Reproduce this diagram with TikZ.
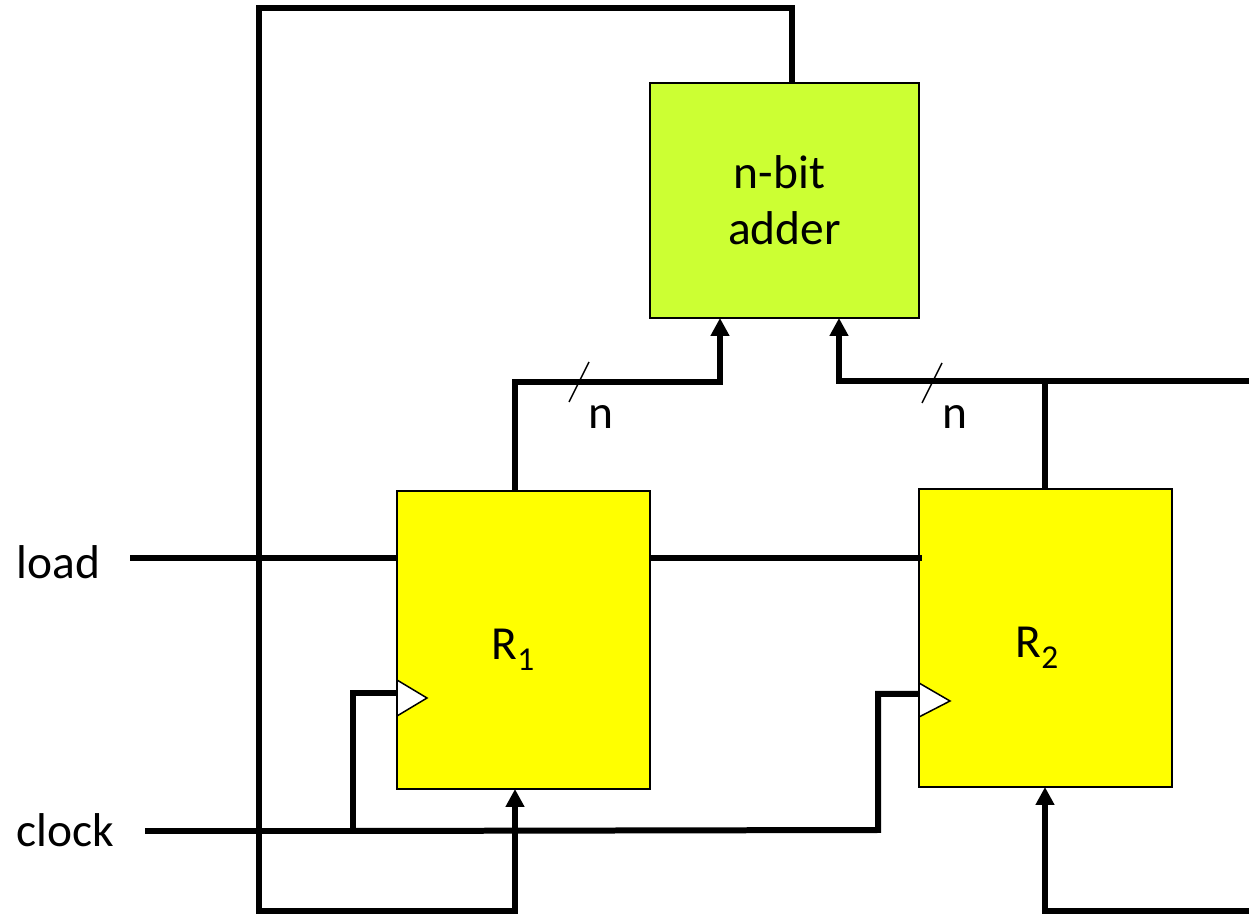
\documentclass[tikz,border=0pt]{standalone}
\usepackage{fontspec}
\setmainfont{Carlito}
\usetikzlibrary{positioning,arrows.meta}

\definecolor{regyellow}{RGB}{255,255,0}
\definecolor{addgreen}{RGB}{204,255,51}
\newcommand{\subdigit}[1]{\raisebox{-0.24em}{\fontsize{19}{19}\selectfont #1}}

\tikzset{
    block/.style={draw=black,line width=0.03cm,outer sep=0pt,inner sep=0pt,minimum width=5.06cm,minimum height=5.96cm,fill=regyellow},
    wire/.style={line width=0.12cm,line join=miter},
    busarrow/.style={wire,-{Triangle[width=0.36cm,length=0.36cm]}},
    tick/.style={line width=0.03cm},
    clockmark/.style={draw=black,fill=white,line width=0.03cm},
    lbl/.style={font=\fontsize{27}{32}\selectfont,inner sep=0pt}
}

\begin{document}
\begin{tikzpicture}[x=0.02cm,y=-0.02cm]
                    \useasboundingbox (0,0) rectangle (1249,915);
                    \node[block,fill=addgreen,minimum width=5.38cm,minimum height=4.7cm,lbl,align=center] (adder) at (784.5,200.5) {n-bit\hspace*{0.2cm}\\adder};
                    \node[block] (r1) at (523.5,640) {};
                    \node[block] (r2) at (1045.5,638) {};
                    \node[lbl] (r1name) at (513,650) {R\subdigit{1}};
                    \node[lbl] (r2name) at (1037,648) {R\subdigit{2}};
                    \node[lbl] (load) at (58.5,562) {load};
                    \node[lbl] (clock) at (65.5,830) {clock};
                    % wire ends
                    \coordinate (addtop) at (792,83);
                    \coordinate (addina) at (720,318);
                    \coordinate (addinb) at (839,318);
                    \coordinate (r1top) at (515,491);
                    \coordinate (r1bot) at (515,789);
                    \coordinate (r2top) at (1045,489);
                    \coordinate (r2bot) at (1045,787);
                    \coordinate (r1clk) at (397,693);
                    \coordinate (r2clk) at (919,694);
                    \coordinate (busout) at (1249,381);
                    \coordinate (inout) at (1249,911);
                    \coordinate (loadin) at (130,558);
                    \coordinate (r1loadl) at (397,558);
                    \coordinate (r1loadr) at (650,558);
                    \coordinate (r2load) at (922,558);
                    \coordinate (clkin) at (145,831);
                    \coordinate (clkjoin) at (353,831);
                    \coordinate (clkend) at (878,830);
                    \coordinate (buscorner) at (1045,381);
                    % feedback
                    \draw[busarrow] (addtop) -- (792,8) -- (259,8) -- (259,911) -- (515,911) -- (r1bot);
                    % buses
                    \draw[busarrow] (r1top) -- (515,382) -- (720,382) -- (addina);
                    \draw[busarrow] (busout) -- (839,381) -- (addinb);
                    \draw[wire] (r2top) -- (buscorner);
                    \draw[busarrow] (inout) -- (1045,911) -- (r2bot);
                    % load
                    \draw[wire] (loadin) -- (r1loadl);
                    \draw[wire] (r1loadr) -- (r2load);
                    % clock
                    \draw[wire] (clkin) -- (clkjoin) -- (clkend) -- (878,694) -- (r2clk);
                    \draw[wire] (clkjoin) -- (353,693) -- (r1clk);
                    \draw[clockmark] (397,680) -- (427,698) -- (397,716) -- cycle;
                    \draw[clockmark] (919,683) -- (950,701) -- (919,717) -- cycle;
                    % bus width
                    \draw[tick] (569,402) -- (589,362);
                    \draw[tick] (922,403) -- (942,363);
                    \node[lbl] (na) at (601,417) {n};
                    \node[lbl] (nb) at (955,417) {n};
                \end{tikzpicture}
\end{document}
